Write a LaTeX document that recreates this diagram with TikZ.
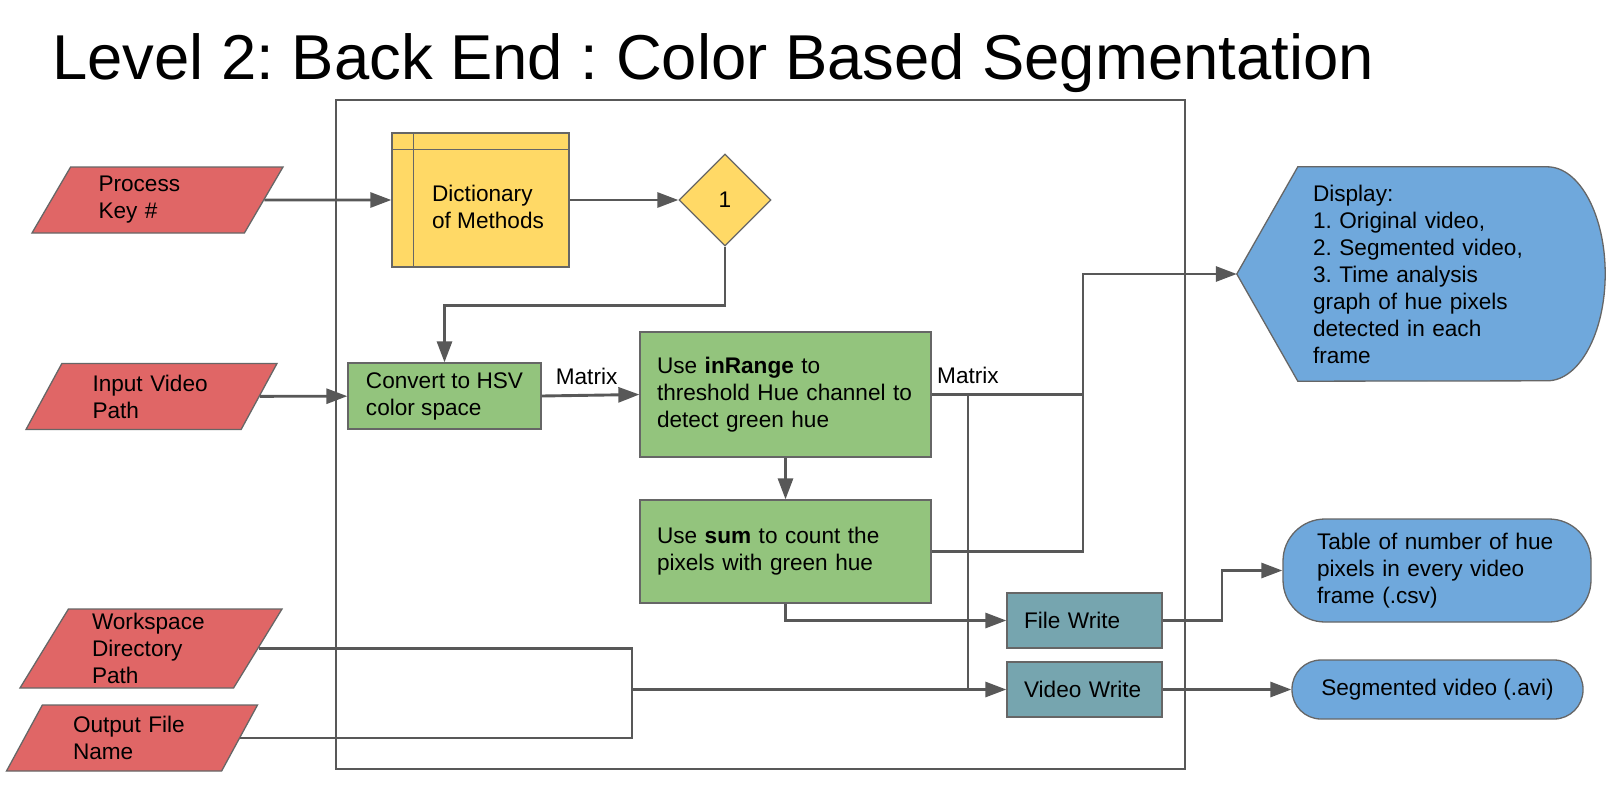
\documentclass[tikz,border=0pt]{standalone}
\usepackage{fontspec}
\setmainfont{Liberation Sans}
\usepackage{xcolor}
\usepackage{tikz}
\usetikzlibrary{shapes.geometric,arrows.meta,positioning,backgrounds}
\frenchspacing

\definecolor{inred}{HTML}{E06666}
\definecolor{dictyellow}{HTML}{FFD966}
\definecolor{procgreen}{HTML}{93C47D}
\definecolor{writeteal}{HTML}{76A5AF}
\definecolor{outblue}{HTML}{6FA8DC}
\definecolor{edgegray}{HTML}{666666}
\definecolor{wiregray}{HTML}{585858}

\begin{document}
\begin{tikzpicture}[
  x=1pt, y=-1pt,
  txt/.style={font=\fontsize{22.6pt}{27pt}\selectfont},
  inbox/.style={txt, draw=edgegray, line width=1.3pt, fill=inred, trapezium, trapezium left angle=53, trapezium right angle=127, trapezium stretches body, minimum height=66pt, minimum width=251pt, inner ysep=2pt, text width=118pt, align=left},
  proc/.style={txt, draw=edgegray, line width=1.3pt, fill=procgreen, inner xsep=17pt, align=left},
  wbox/.style={proc, fill=writeteal, minimum height=55pt, text width=121pt},
  outbox/.style={txt, draw=edgegray, line width=1.3pt, fill=outblue, align=left},
  lbl/.style={txt, inner sep=0pt},
  arr/.style={-{Triangle[length=21pt,width=15pt]}, draw=wiregray, line width=2.9pt},
  link/.style={draw=wiregray, line width=2.9pt}
]
  \useasboundingbox (0,0) rectangle (1612,804);

  \node[anchor=base west, inner sep=0pt, font=\fontsize{63.4pt}{76pt}\selectfont] (title) at (52,79) {Level 2: Back End : Color Based Segmentation};
  \node[draw=wiregray, line width=2.9pt, minimum width=849pt, minimum height=669pt, inner sep=0pt] (backend) at (760.5,434.5) {};

  \node[inbox] (keyin) at (157.5,200) {Process\\Key \#};
  \node[inbox] (videoin) at (151.5,396.5) {Input Video\\Path};
  \node[inbox, minimum height=79pt, minimum width=262pt, trapezium left angle=57, trapezium right angle=123] (wsin) at (151,648.5) {Workspace\\Directory\\Path};
  \node[inbox] (outin) at (132,738) {Output File\\Name};

  \node[draw=edgegray, line width=1.3pt, fill=dictyellow, minimum width=177pt, minimum height=134pt] (dict) at (480.5,200) {};
  \draw[draw=edgegray, line width=1.3pt] ([yshift=-17pt]dict.north west) -- ([yshift=-17pt]dict.north east);
  \draw[draw=edgegray, line width=1.3pt] ([xshift=22pt]dict.north west) -- ([xshift=22pt]dict.south west);
  \node[lbl, align=left] (dicttext) at (488,207) {Dictionary\\of Methods};
  \node[txt, draw=edgegray, line width=1.3pt, fill=dictyellow, diamond, minimum width=92pt, minimum height=92pt, inner sep=0pt] (decision) at (725,200) {1};

  \node[proc, minimum width=193pt, minimum height=66pt] (convert) at (444.5,396) {Convert to HSV\\color space};
  \node[proc, text width=257pt, minimum height=125pt] (inrange) at (785.5,394.5) {Use \textbf{inRange} to\\threshold Hue channel to\\detect green hue};
  \node[proc, text width=257pt, minimum height=103pt] (sum) at (785.5,551.5) {Use \textbf{sum} to count the\\pixels with green hue};
  \node[wbox] (filewrite) at (1084.5,620.5) {File Write};
  \node[wbox] (vidwrite) at (1084.5,689.5) {Video Write};

  \node[txt, minimum width=368pt, minimum height=214pt, text width=216pt, align=left, inner sep=0pt] (display) at (1421,274) {Display:\\1. Original video,\\2. Segmented video,\\3. Time analysis\\graph of hue pixels\\detected in each\\frame};
  \begin{scope}[on background layer]
    \draw[draw=edgegray, line width=1.3pt, fill=outblue] (display.west) -- ([xshift=61pt]display.north west) -- ([xshift=-58pt]display.north east) arc[start angle=90, end angle=-90, x radius=58pt, y radius=107pt] -- ([xshift=61pt]display.south west) -- cycle;
  \end{scope}
  \node[outbox, rounded corners=42pt, minimum width=308pt, minimum height=103pt, text width=240pt] (table) at (1437,570.5) {Table of number of hue\\pixels in every video\\frame (.csv)};
  \node[outbox, rounded corners=29pt, minimum width=291pt, minimum height=59pt] (segvid) at (1437.5,689.5) {Segmented video (.avi)};

  \coordinate (busdisp) at (1083,274);
  \coordinate (busvid) at (968,394.5);
  \coordinate (busws) at (632,689.5);
  \coordinate (busfile) at (1222,620.5);

  \draw[arr] (keyin) -- (dict);
  \draw[arr] (dict) -- (decision);
  \draw[arr] (decision.south) -- ++(0,59) -| (convert.north);
  \draw[arr] (videoin) -- (convert);
  \draw[arr] (convert.east) -- node[lbl, above=9pt, pos=0.46] {Matrix} (inrange.west);
  \draw[arr] (inrange) -- (sum);
  \draw[arr] (inrange.east) -| node[lbl, above=9pt, pos=0.12] {Matrix} (busdisp) -- (display.west);
  \draw[link] (sum.east) -| (busdisp);
  \draw[link] (busvid) -- (busvid |- vidwrite.west);
  \draw[link] (wsin) -| (busws);
  \draw[link] (outin) -| (busws);
  \draw[arr] (busws) -- (vidwrite.west);
  \draw[arr] (sum.south) |- (filewrite.west);
  \draw[arr] (filewrite.east) -- (busfile) |- (table.west);
  \draw[arr] (vidwrite.east) -- (segvid.west);
\end{tikzpicture}
\end{document}
